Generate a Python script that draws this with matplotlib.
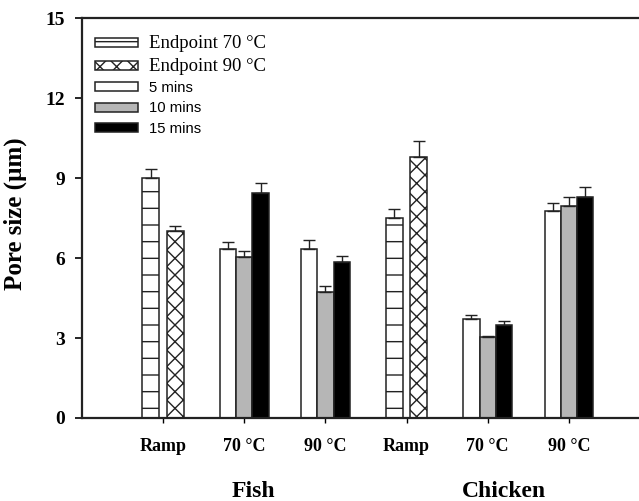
import matplotlib.pyplot as plt
import numpy as np
from matplotlib.patches import Patch

plt.rcParams['hatch.linewidth'] = 1.0

# tick positions: Fish Ramp, 70, 90, Chicken Ramp, 70, 90
tick_labels = ['Ramp', '70 °C', '90 °C', 'Ramp', '70 °C', '90 °C']
groups = ['Fish', 'Chicken']

# endpoint heating (ramp groups only)
ramp_pos = [1, 4]
endpoint70 = [9.0, 7.5]
endpoint70_err = [0.35, 0.35]
endpoint90 = [7.0, 9.8]
endpoint90_err = [0.2, 0.6]

# holding times at 70 / 90 °C
hold_pos = [2, 3, 5, 6]
mins5 = [6.34, 6.34, 3.70, 7.77]
mins5_err = [0.26, 0.35, 0.16, 0.30]
mins10 = [6.03, 4.71, 3.03, 7.97]
mins10_err = [0.25, 0.23, 0.05, 0.33]
mins15 = [8.43, 5.84, 3.48, 8.31]
mins15_err = [0.40, 0.25, 0.17, 0.37]

fig = plt.figure(figsize=(6.39, 5.01), dpi=100)
ax = fig.add_axes([82 / 639, 83 / 501, 568 / 639, 399.7 / 501])

err_kw = dict(ecolor='#222222', elinewidth=1.0, capsize=4.5, capthick=1.0)
bar_kw = dict(edgecolor='#222222', linewidth=1.1)


def up_err(e):
    return [np.zeros(len(e)), e]


rp = np.array(ramp_pos, dtype=float)
ax.bar(rp - 0.15, endpoint70, 0.21, yerr=up_err(endpoint70_err), color='white',
       hatch='-', error_kw=err_kw, **bar_kw)
ax.bar(rp + 0.15, endpoint90, 0.21, yerr=up_err(endpoint90_err), color='white',
       hatch='xx', error_kw=err_kw, **bar_kw)

hp = np.array(hold_pos, dtype=float)
w = 0.2
ax.bar(hp - w, mins5, w, yerr=up_err(mins5_err), color='white', error_kw=err_kw, **bar_kw)
ax.bar(hp, mins10, w, yerr=up_err(mins10_err), color='#b6b6b6', error_kw=err_kw, **bar_kw)
ax.bar(hp + w, mins15, w, yerr=up_err(mins15_err), color='black', error_kw=err_kw, **bar_kw)

ax.set_xlim(0, 7)
ax.set_ylim(0, 15)
ax.set_yticks([0, 3, 6, 9, 12, 15])
ax.set_xticks(range(1, 7))
ax.set_xticklabels(tick_labels)

for lab in ax.get_xticklabels():
    lab.set_fontfamily('Liberation Serif')
    lab.set_fontweight('bold')
    lab.set_fontsize(13)
for lab in ax.get_yticklabels():
    lab.set_fontfamily('Liberation Serif')
    lab.set_fontweight('bold')
    lab.set_fontsize(14)

ax.tick_params(axis='y', direction='out', length=5, width=1.2, pad=7)
ax.tick_params(axis='x', direction='out', length=3.5, width=1.0, pad=11)
for s in ax.spines.values():
    s.set_linewidth(1.6)
    s.set_color('#222222')

ax.set_ylabel('Pore size (µm)', fontfamily='Liberation Serif', fontweight='bold',
              fontsize=18)
ax.yaxis.set_label_coords(-0.096, 0.51)

# group labels under the tick labels
for name, xg in zip(groups, [2.11, 5.2]):
    ax.text(xg, -0.185, name, transform=ax.get_xaxis_transform(), ha='center',
            va='center', fontfamily='Liberation Serif', fontweight='bold', fontsize=17)

handles = [
    Patch(facecolor='white', edgecolor='#222222', hatch='-', linewidth=1.1),
    Patch(facecolor='white', edgecolor='#222222', hatch='xx', linewidth=1.1),
    Patch(facecolor='white', edgecolor='#222222', linewidth=1.1),
    Patch(facecolor='#b6b6b6', edgecolor='#222222', linewidth=1.1),
    Patch(facecolor='black', edgecolor='#222222', linewidth=1.1),
]
names = ['Endpoint 70 °C', 'Endpoint 90 °C', '5 mins', '10 mins', '15 mins']
leg = ax.legend(handles, names, loc='upper left', bbox_to_anchor=(0.005, 0.985),
                frameon=False, fontsize=10.7, handlelength=2.9, handleheight=0.55,
                labelspacing=0.42, handletextpad=0.72, borderaxespad=0.3)
for i, t in enumerate(leg.get_texts()):
    if i < 2:
        t.set_fontfamily('Liberation Serif')
        t.set_fontsize(13.5)
    else:
        t.set_fontfamily('Liberation Sans')

fig.savefig('out.png', dpi=100)
